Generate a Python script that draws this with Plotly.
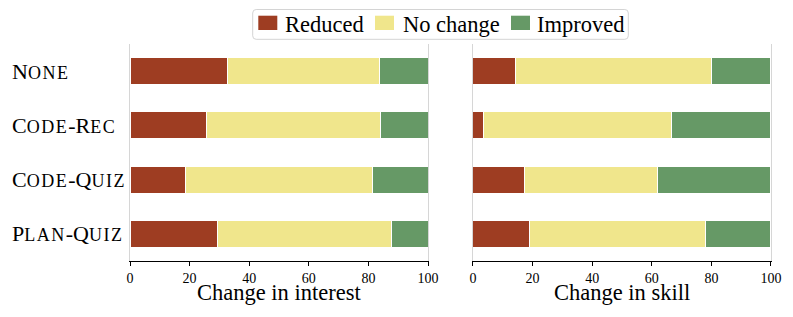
import plotly.graph_objects as go
from plotly.subplots import make_subplots

categories = ["None", "Code-Rec", "Code-Quiz", "Plan-Quiz"]
SC = "<span style='font-size:18px;letter-spacing:1.5px'>{}</span>"
cat_labels = [
    "N" + SC.format("ONE"),
    "C" + SC.format("ODE") + "-R" + SC.format("EC"),
    "C" + SC.format("ODE") + "-Q" + SC.format("UIZ"),
    "P" + SC.format("LAN") + "-Q" + SC.format("UIZ"),
]
series_names = ["Reduced", "No change", "Improved"]
interest_reduced = [32.7, 25.8, 18.5, 29.3]
interest_nochange = [50.9, 58.2, 62.8, 58.3]
interest_improved = [16.4, 16.0, 18.7, 12.4]
skill_reduced = [14.3, 3.6, 17.3, 19.0]
skill_nochange = [65.8, 63.1, 44.7, 59.0]
skill_improved = [19.9, 33.3, 38.0, 22.0]
colors = ["#9e3d22", "#f0e68c", "#669966"]
xticks = [0, 20, 40, 60, 80, 100]
axis_titles = ["Change in interest", "Change in skill"]

FONT = "Liberation Serif"

# page body has an 8px default margin; compensate in the figure size/margins
OFF = 8
W, H = 785, 309
ML, MR, MT, MB = 122, 22, 36, 56
PW = W - ML - MR
PH = H - MT - MB


def px(X):
    return (X - OFF - ML) / PW


def py(Y):
    return 1 - (Y - OFF - MT) / PH


fig = make_subplots(rows=1, cols=2, horizontal_spacing=0.0702)

panels = [
    (1, [interest_reduced, interest_nochange, interest_improved]),
    (2, [skill_reduced, skill_nochange, skill_improved]),
]
for col, vals in panels:
    for name, v, c in zip(series_names, vals, colors):
        fig.add_trace(
            go.Bar(
                y=categories, x=v, name=name, orientation="h",
                marker=dict(color=c, line=dict(color="white", width=1)),
                width=0.5, showlegend=False,
            ),
            row=1, col=col,
        )

fig.update_layout(
    width=W, height=H,
    barmode="stack",
    margin=dict(l=ML, r=MR, t=MT, b=MB, autoexpand=False),
    plot_bgcolor="white", paper_bgcolor="white",
    font=dict(family=FONT, color="black"),
    showlegend=False,
)

for col in (1, 2):
    fig.update_xaxes(
        range=[0, 100], tickvals=xticks, ticks="outside", ticklen=4,
        tickcolor="black", showline=True, linecolor="black", linewidth=1,
        showgrid=False, zeroline=False, automargin=False,
        tickfont=dict(size=14, family=FONT, color="black"),
        ticklabelstandoff=0,
        row=1, col=col,
    )
    fig.update_yaxes(
        categoryorder="array", categoryarray=categories,
        range=[3.5, -0.5], automargin=False,
        showline=True, mirror=True, linecolor="#d6d6d6", linewidth=1,
        showgrid=False, zeroline=False, ticks="", showticklabels=False,
        row=1, col=col,
    )

# category labels (left aligned, small caps)
for cat, lab in zip(categories, cat_labels):
    fig.add_annotation(
        x=px(10), xref="paper", xanchor="left",
        y=cat, yref="y", yanchor="middle",
        text=lab, showarrow=False,
        font=dict(size=22, family=FONT, color="black"),
    )

# axis titles
for xa, title in zip(["x domain", "x2 domain"], axis_titles):
    fig.add_annotation(
        x=0.5, xref=xa, xanchor="center",
        y=py(292), yref="paper", yanchor="middle",
        text=title, showarrow=False,
        font=dict(size=22.5, family=FONT, color="black"),
    )

# legend: rounded frame, swatches and labels
bx0, bx1, by0, by1, r = 252.7, 628.3, 9.5, 39.3, 3.5
path = (
    f"M {px(bx0 + r)},{py(by0)} L {px(bx1 - r)},{py(by0)} "
    f"Q {px(bx1)},{py(by0)} {px(bx1)},{py(by0 + r)} "
    f"L {px(bx1)},{py(by1 - r)} Q {px(bx1)},{py(by1)} {px(bx1 - r)},{py(by1)} "
    f"L {px(bx0 + r)},{py(by1)} Q {px(bx0)},{py(by1)} {px(bx0)},{py(by1 - r)} "
    f"L {px(bx0)},{py(by0 + r)} Q {px(bx0)},{py(by0)} {px(bx0 + r)},{py(by0)} Z"
)
fig.add_shape(type="path", path=path, xref="paper", yref="paper",
              line=dict(color="#d4d4d4", width=1), fillcolor="white", layer="above")

swatch_x = [258.3, 375.0, 511.0]
text_x = [283.3, 400.7, 535.0]
for name, c, sx, tx in zip(series_names, colors, swatch_x, text_x):
    fig.add_shape(type="rect", xref="paper", yref="paper",
                  x0=px(sx), x1=px(sx + 19), y0=py(15.7), y1=py(30.0),
                  fillcolor=c, line=dict(width=0), layer="above")
    fig.add_annotation(
        x=px(tx), xref="paper", xanchor="left",
        y=py(24.5), yref="paper", yanchor="middle",
        text=name, showarrow=False,
        font=dict(size=22.5, family=FONT, color="black"),
    )

fig.write_html("out.html")
